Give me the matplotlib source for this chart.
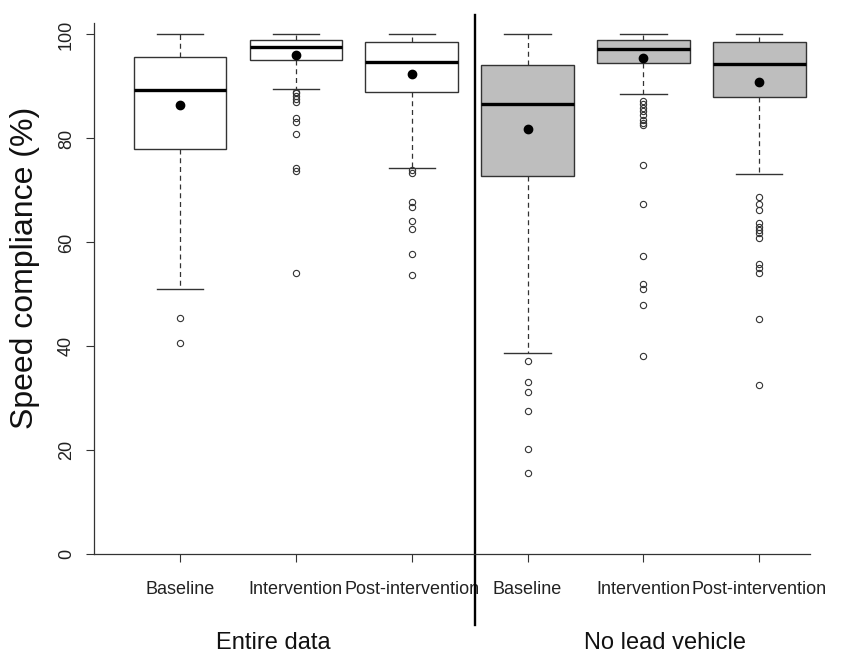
import matplotlib
matplotlib.use("Agg")
import matplotlib.pyplot as plt

plt.rcParams["font.family"] = ["Liberation Sans", "DejaVu Sans"]

# values (speed compliance, %)
labels = ["Baseline", "Intervention", "Post-intervention",
          "Baseline", "Intervention", "Post-intervention"]
groups = ["Entire data", "No lead vehicle"]
q1 = [78.0, 95.1, 89.0, 72.8, 94.5, 88.0]
med = [89.3, 97.5, 94.8, 86.6, 97.2, 94.4]
q3 = [95.7, 99.0, 98.5, 94.2, 99.0, 98.5]
means = [86.4, 96.0, 92.4, 81.9, 95.5, 90.9]
whislo = [51.1, 89.5, 74.4, 38.7, 88.5, 73.2]
whishi = [100, 100, 100, 100, 100, 100]
fliers = [
    [45.4, 40.7],
    [89.0, 88.8, 88.2, 87.6, 87.0, 83.9, 83.1, 80.9, 74.4, 73.7, 54.2],
    [73.9, 73.4, 67.7, 66.8, 64.2, 62.6, 57.8, 53.7],
    [37.2, 33.1, 31.2, 27.6, 20.2, 15.7],
    [87.3, 86.6, 85.9, 85.2, 84.5, 83.6, 83.0, 82.6, 74.9, 67.3, 57.3,
     52.0, 51.0, 48.0, 38.1],
    [68.8, 67.4, 66.3, 63.7, 63.0, 62.3, 61.8, 60.8, 55.9, 55.0, 54.2,
     45.3, 32.5],
]
fills = ["white", "white", "white", "#bebebe", "#bebebe", "#bebebe"]


def main():
    fig = plt.figure(figsize=(8.49, 6.58), dpi=100)
    W, H = 849, 658
    left, right, bottom, top = 94.3, 810, 554.3, 22.7
    ax = fig.add_axes([left / W, 1 - bottom / H,
                       (right - left) / W, (bottom - top) / H])

    stats = []
    for i in range(len(labels)):
        stats.append(dict(med=med[i], q1=q1[i], q3=q3[i], mean=means[i],
                          whislo=whislo[i], whishi=whishi[i],
                          fliers=fliers[i], label=labels[i]))

    dash = (0, (4, 3))
    bp = ax.bxp(stats, positions=range(1, 7), widths=0.8, capwidths=0.4,
                patch_artist=True, showmeans=True,
                boxprops=dict(edgecolor="#333333", linewidth=1.0),
                whiskerprops=dict(color="#333333", linewidth=0.9,
                                  linestyle=dash),
                capprops=dict(color="#333333", linewidth=1.0),
                medianprops=dict(color="black", linewidth=2.4),
                meanprops=dict(marker="o", markerfacecolor="black",
                               markeredgecolor="black", markersize=6),
                flierprops=dict(marker="o", markerfacecolor="none",
                                markeredgecolor="#333333", markersize=4.5,
                                markeredgewidth=0.8))
    for patch, c in zip(bp["boxes"], fills):
        patch.set_facecolor(c)

    ax.set_xlim(0.26, 6.4376)
    ax.set_ylim(0, 102.27)
    ax.set_yticks([0, 20, 40, 60, 80, 100])
    ax.set_xticks(range(1, 7))
    ax.set_xticklabels(labels)

    for s in ["top", "right"]:
        ax.spines[s].set_visible(False)
    for s in ["left", "bottom"]:
        ax.spines[s].set_color("#333333")
        ax.spines[s].set_linewidth(0.9)

    ax.tick_params(axis="both", colors="#333333", labelcolor="#222222",
                   labelsize=13, length=6, width=0.8)
    ax.tick_params(axis="x", pad=13)
    ax.tick_params(axis="y", pad=8)
    for lab in ax.get_yticklabels():
        lab.set_rotation(90)
        lab.set_va("center")

    # separator between the two data groups
    ax.axvline(3.55, ymin=-0.133, ymax=1.0145, color="black",
               linewidth=1.7, clip_on=False)

    fig.text(273 / W, 1 - 643 / H, groups[0], fontsize=17,
             ha="center", va="center", color="#111111")
    fig.text(665 / W, 1 - 643 / H, groups[1], fontsize=17,
             ha="center", va="center", color="#111111")
    fig.text(25 / W, 1 - 268 / H, "Speed compliance (%)", fontsize=23,
             rotation=90, ha="center", va="center", color="#111111")

    fig.savefig("out.png", dpi=100)


if __name__ == "__main__":
    main()
